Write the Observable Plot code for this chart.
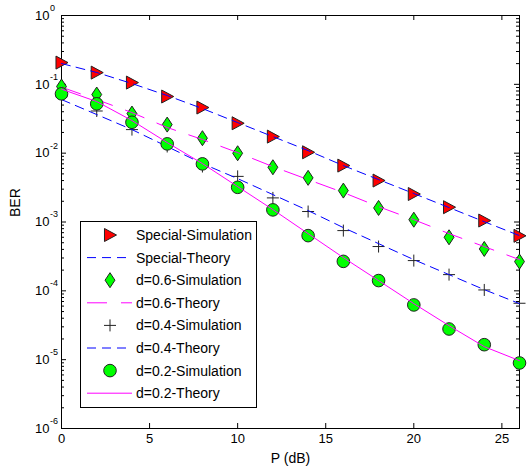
<!DOCTYPE html>
<html><head><meta charset="utf-8">
<script src="https://cdn.jsdelivr.net/npm/d3@7"></script>
<script src="https://cdn.jsdelivr.net/npm/@observablehq/plot@0.6"></script>
<style>
body{margin:0;background:#fff}
#wrap{position:relative;width:527px;height:473px;font-family:"Liberation Sans",Arial,sans-serif}
#legend{position:absolute;left:0;top:0;pointer-events:none}
</style>
</head><body><div id="wrap"></div>
<script>
// ---- data ----
const P = [0, 2, 4, 6, 8, 10, 12, 14, 16, 18, 20, 22, 24, 26];
const specialSim    = [0.207, 0.148, 0.106, 0.0665, 0.046, 0.0272, 0.0174, 0.0103, 0.0066, 0.0040, 0.00255, 0.00164, 0.00105, 0.00063];
const specialTheory = [0.2006, 0.1485, 0.1027, 0.0687, 0.0445, 0.0278, 0.0174, 0.0109, 0.0066, 0.00413, 0.00259, 0.00162, 0.00101, 0.000634];
const d06Sim        = [0.093, 0.0711, 0.0376, 0.0260, 0.0165, 0.00997, 0.00624, 0.00438, 0.00286, 0.0016, 0.00108, 0.0006, 0.000406, 0.000266];
const d06Theory     = [0.091, 0.0601, 0.0389, 0.0236, 0.0158, 0.0102, 0.00638, 0.00413, 0.00268, 0.00167, 0.00108, 0.000678, 0.000439, 0.000284];
const d04Sim        = [0.066, 0.041, 0.022, 0.0125, 0.0064, 0.0046, 0.00224, 0.00142, 0.00075, 0.00044, 0.000275, 0.000172, 0.000103, 0.000066];
const d04Theory     = [0.0601, 0.0364, 0.0220, 0.01248, 0.00706, 0.00427, 0.00250, 0.001465, 0.000829, 0.000485, 0.000284, 0.000172, 0.000104, 0.0000652];
const d02Sim        = [0.0728, 0.0521, 0.0281, 0.01365, 0.00699, 0.00319, 0.0015, 0.000634, 0.000268, 0.000141, 0.0000624, 0.0000279, 0.0000165, 0.00000895];
const d02Theory     = [0.085, 0.0562, 0.0298, 0.01426, 0.00706, 0.00327, 0.001515, 0.000678, 0.000304, 0.000141, 0.0000652, 0.0000312, 0.00001545, 0.00000967];
const legendLabels = ["Special-Simulation", "Special-Theory", "d=0.6-Simulation", "d=0.6-Theory",
                      "d=0.4-Simulation", "d=0.4-Theory", "d=0.2-Simulation", "d=0.2-Theory"];
const xTicks = [0, 5, 10, 15, 20, 25];
const decades = [1, 1e-1, 1e-2, 1e-3, 1e-4, 1e-5, 1e-6];
const expLabels = ["0", "-1", "-2", "-3", "-4", "-5", "-6"];
const xLabel = "P (dB)";
const yLabel = "BER";

// ---- symbols ----
const triRight = {draw(c, s){const r=Math.sqrt(s/Math.PI); c.moveTo(-0.85*r,-r); c.lineTo(r,0); c.lineTo(-0.85*r,r); c.closePath();}};
const diamond = {draw(c, s){const r=Math.sqrt(s/Math.PI); c.moveTo(0,-r); c.lineTo(0.66*r,0); c.lineTo(0,r); c.lineTo(-0.66*r,0); c.closePath();}};
const plus = {draw(c, s){const r=Math.sqrt(s/Math.PI); c.moveTo(-r,0); c.lineTo(r,0); c.moveTo(0,-r); c.lineTo(0,r);}};
const circ = {draw(c, s){const r=Math.sqrt(s/Math.PI); c.moveTo(r,0); c.arc(0,0,r,0,2*Math.PI);}};

const series = [
  {values: specialSim, type: "dot", symbol: triRight, r: 6.5, fill: "#ff0000", stroke: "#222"},
  {values: specialTheory, type: "line", stroke: "#0000ff", dash: "9,6"},
  {values: d06Sim, type: "dot", symbol: diamond, r: 7.5, fill: "#00ff00", stroke: "#222"},
  {values: d06Theory, type: "line", stroke: "#ff00ff", dash: "20,14"},
  {values: d04Sim, type: "dot", symbol: plus, r: 6, fill: "none", stroke: "#222"},
  {values: d04Theory, type: "line", stroke: "#0000ff", dash: "9,6"},
  {values: d02Sim, type: "dot", symbol: circ, r: 6.3, fill: "#00ff00", stroke: "#222"},
  {values: d02Theory, type: "line", stroke: "#ff00ff", dash: null}
];

const W = 527, H = 473, mL = 61, mR = 8, mT = 15, mB = 45;
const innerW = W - mL - mR, innerH = H - mT - mB;
const minors = decades.slice(1).flatMap(d => [2,3,4,5,6,7,8,9].map(k => k * d));

const seriesMarks = series.map(s => {
  const rows = P.map((p, i) => ({P: p, v: s.values[i]}));
  if (s.type === "dot") {
    return Plot.dot(rows, {x: "P", y: "v", symbol: s.symbol, r: s.r, fill: s.fill, stroke: s.stroke, strokeWidth: 1});
  }
  return Plot.line(rows, {x: "P", y: "v", stroke: s.stroke, strokeWidth: 1, strokeDasharray: s.dash || undefined});
});

const chart = Plot.plot({
  width: W, height: H,
  marginLeft: mL, marginRight: mR, marginTop: mT, marginBottom: mB,
  style: {fontFamily: "Liberation Sans, Arial, sans-serif", fontSize: "13px", background: "#fff", overflow: "visible"},
  x: {domain: [0, 26], axis: null},
  y: {type: "log", domain: [1e-6, 1], axis: null},
  marks: [
    Plot.frame({stroke: "#000", strokeWidth: 1}),
    Plot.tickX(xTicks, {x: d => d, insetTop: innerH - 5, stroke: "#000"}),
    Plot.tickX(xTicks, {x: d => d, insetBottom: innerH - 5, stroke: "#000"}),
    Plot.tickY(decades, {y: d => d, insetRight: innerW - 5, stroke: "#000"}),
    Plot.tickY(decades, {y: d => d, insetLeft: innerW - 5, stroke: "#000"}),
    Plot.tickY(minors, {y: d => d, insetRight: innerW - 3, stroke: "#000"}),
    Plot.tickY(minors, {y: d => d, insetLeft: innerW - 3, stroke: "#000"}),
    ...seriesMarks,
    Plot.text(xTicks, {x: d => d, frameAnchor: "bottom", dy: 14, text: d => String(d), fontSize: 13, fill: "#000"}),
    Plot.text(decades, {y: d => d, frameAnchor: "left", dx: -12, text: () => "10", textAnchor: "end", fontSize: 13, fill: "#000"}),
    Plot.text(decades, {y: d => d, frameAnchor: "left", dx: -11.5, dy: -7.5, text: (d, i) => expLabels[i], textAnchor: "start", fontSize: 9, fill: "#000"}),
    Plot.text([xLabel], {frameAnchor: "bottom", dy: 34, text: d => d, fontSize: 14, fill: "#000"}),
    Plot.text([yLabel], {frameAnchor: "left", dx: -46, dy: -5, rotate: -90, text: d => d, fontSize: 14, fill: "#000"})
  ]
});

const wrap = document.getElementById("wrap");
wrap.appendChild(chart);

// ---- legend overlay (inside axes, like the original) ----
const lg = d3.select(wrap).append("svg").attr("id", "legend").attr("width", W).attr("height", H);
const bx = 80.5, by = 221.5, bw = 176, bh = 186, row0 = 235, rowH = 22.6;
lg.append("rect").attr("x", bx).attr("y", by).attr("width", bw).attr("height", bh)
  .attr("fill", "#fff").attr("stroke", "#000").attr("stroke-width", 1);
series.forEach((s, i) => {
  const yy = row0 + i * rowH;
  if (s.type === "dot") {
    const p = d3.path(); s.symbol.draw(p, s.r * s.r * Math.PI);
    lg.append("path").attr("d", p.toString()).attr("transform", `translate(110,${yy})`)
      .attr("fill", s.fill).attr("stroke", s.stroke).attr("stroke-width", 1);
  } else {
    lg.append("line").attr("x1", 87).attr("x2", 132).attr("y1", yy).attr("y2", yy)
      .attr("stroke", s.stroke).attr("stroke-width", 1).attr("stroke-dasharray", s.dash || null);
  }
  lg.append("text").attr("x", 136).attr("y", yy).attr("dy", "0.35em")
    .attr("font-size", 14).attr("font-family", "Liberation Sans, Arial, sans-serif").attr("fill", "#000")
    .text(legendLabels[i]);
});
</script>
</body></html>
